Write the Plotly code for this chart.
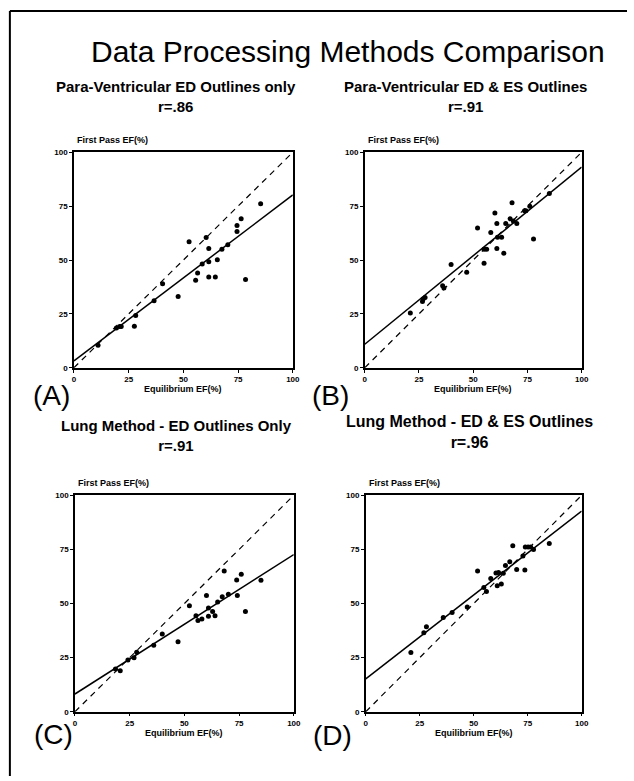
import plotly.graph_objects as go

W, H = 634, 781

# ---------------- data ----------------
ticks = [0, 25, 50, 75, 100]

ax = [11, 19.4, 20.9, 21.6, 27.6, 28.2, 36.6, 40.5, 47.6, 52.6, 55.6, 56.5, 58.6, 60.4, 61.6, 61.6, 61.6,
      64.6, 65.5, 67.6, 70.3, 74.5, 74.5, 76.4, 78.4, 85.3]
ay = [10.4, 18.4, 19.1, 19.1, 19.3, 24.2, 31.1, 39.0, 33.1, 58.5, 40.6, 44.0, 48.2, 60.5, 55.3, 49.2, 42.1,
      42.1, 50.1, 55.0, 57.1, 63.2, 66.0, 69.1, 40.9, 76.1]

bx = [21.0, 26.6, 26.9, 27.8, 35.9, 36.5, 39.8, 47.0, 52.0, 55.0, 55.0, 56.2, 58.1, 60.0, 60.9, 60.9, 61.2,
      63.1, 64.1, 65.0, 67.0, 67.9, 68.5, 70.1, 73.7, 74.3, 76.1, 77.8, 85.1]
by = [25.4, 30.8, 31.9, 32.6, 38.0, 37.0, 47.9, 44.3, 64.9, 48.5, 55.0, 55.0, 62.8, 71.8, 66.9, 55.4, 60.6,
      60.6, 53.1, 66.9, 69.1, 76.6, 68.1, 66.9, 72.9, 72.9, 75.0, 59.7, 80.9]

cx = [18.5, 20.7, 24.2, 27.0, 28.2, 36.0, 39.9, 47.1, 52.3, 55.3, 56.2, 58.0, 60.1, 61.0, 61.0, 62.9, 64.0,
      65.2, 67.3, 68.2, 70.1, 73.9, 74.2, 76.0, 77.9, 85.0]
cy = [19.8, 18.9, 23.9, 25.0, 27.5, 30.7, 35.9, 32.3, 49.0, 44.3, 42.2, 42.8, 53.7, 47.9, 44.1, 46.3, 44.3,
      50.7, 53.1, 65.0, 54.3, 60.9, 53.7, 63.5, 46.3, 60.7]

dx = [20.9, 26.9, 28.1, 35.9, 40.0, 47.0, 51.8, 54.7, 55.9, 57.9, 60.3, 60.9, 61.5, 62.8, 63.7, 64.7, 66.7,
      68.1, 69.9, 72.8, 73.7, 73.9, 75.2, 76.4, 77.7, 85.0]
dy = [27.4, 36.5, 39.3, 43.5, 45.8, 48.4, 65.0, 57.4, 55.5, 61.6, 64.1, 58.2, 64.3, 59.0, 64.0, 67.5, 69.3,
      76.7, 65.7, 72.0, 65.5, 76.1, 76.1, 76.1, 74.9, 77.7]

# regression lines (intercept, slope) as drawn
intercepts = [3.2, 10.9, 8.2, 15.2]
slopes = [0.77, 0.822, 0.644, 0.775]

titles = ["Para-Ventricular ED Outlines only", "Para-Ventricular ED & ES Outlines",
          "Lung Method - ED Outlines Only", "Lung Method - ED & ES Outlines"]
rvals = ["r=.86", "r=.91", "r=.91", "r=.96"]
letters = ["(A)", "(B)", "(C)", "(D)"]
main_title = "Data Processing Methods Comparison"
ytitle = "First Pass EF(%)"
xtitle = "Equilibrium EF(%)"

# ---------------- layout geometry (pixels) ----------------
boxes = [(73, 295, 150, 368), (368, 588, 150, 368), (74, 296, 497, 716), (369, 588, 497, 716)]
# centre x, centre y of the two-line block, font size
title_pos = [(176, 94, 15), (470, 94, 15), (177, 437, 15), (474, 433, 16)]
letter_pos = [(50, 396), (333, 396), (52, 739), (335, 740)]

def px(x):
    return x / W

def py(y):
    return 1 - y / H

FONT = "Liberation Sans"
fig = go.Figure()
series = [(ax, ay), (bx, by), (cx, cy), (dx, dy)]

annotations = []
for i, ((xs, ys), (l, r, t, b)) in enumerate(zip(series, boxes)):
    sfx = "" if i == 0 else str(i + 1)
    xa, ya = "x" + sfx, "y" + sfx
    # identity dashed line
    fig.add_trace(go.Scatter(x=[0, 100], y=[0, 100], mode="lines", xaxis=xa, yaxis=ya,
                             line=dict(color="black", width=1.2, dash="6px,5px"), showlegend=False,
                             hoverinfo="skip"))
    # regression line
    fig.add_trace(go.Scatter(x=[0, 100], y=[intercepts[i], intercepts[i] + 100 * slopes[i]],
                             mode="lines", xaxis=xa, yaxis=ya,
                             line=dict(color="black", width=1.5), showlegend=False, hoverinfo="skip"))
    # points
    fig.add_trace(go.Scatter(x=xs, y=ys, mode="markers", xaxis=xa, yaxis=ya,
                             marker=dict(color="black", size=5), showlegend=False, cliponaxis=False))
    axis_common = dict(range=[0, 100], tickvals=ticks, showgrid=False, zeroline=False,
                       showline=True, mirror=True, linecolor="black", linewidth=1.5,
                       ticks="outside", ticklen=3, tickcolor="black", tickwidth=1,
                       tickfont=dict(family=FONT, size=8, color="black", weight="bold"),
                       fixedrange=True)
    fig.update_layout(**{
        "xaxis" + sfx: dict(domain=[px(l), px(r)], anchor=ya, **axis_common),
        "yaxis" + sfx: dict(domain=[py(b), py(t)], anchor=xa, **axis_common),
    })
    # texts
    tx, tyy, ts = title_pos[i]
    annotations.append(dict(x=px(tx), y=py(tyy), text=titles[i] + "<br>" + rvals[i], showarrow=False,
                            xref="paper", yref="paper", xanchor="center", yanchor="middle", align="center",
                            font=dict(family=FONT, size=ts, color="black", weight="bold")))
    annotations.append(dict(x=px(l + 1), y=py(t - 12), text=ytitle, showarrow=False, xref="paper",
                            yref="paper", xanchor="left", yanchor="middle",
                            font=dict(family=FONT, size=9, color="black", weight="bold")))
    annotations.append(dict(x=px((l + r) / 2), y=py(b + 21), text=xtitle, showarrow=False, xref="paper",
                            yref="paper", xanchor="center", yanchor="middle",
                            font=dict(family=FONT, size=9, color="black", weight="bold")))
    lx, ly = letter_pos[i]
    annotations.append(dict(x=px(lx), y=py(ly), text=letters[i], showarrow=False, xref="paper",
                            yref="paper", xanchor="center", yanchor="middle",
                            font=dict(family=FONT, size=28, color="black")))

annotations.append(dict(x=px(351), y=py(48), text=main_title, showarrow=False, xref="paper", yref="paper",
                        xanchor="center", yanchor="middle",
                        font=dict(family=FONT, size=30, color="black")))

shapes = [
    dict(type="line", xref="paper", yref="paper", x0=px(8), x1=1, y0=py(7), y1=py(7),
         line=dict(color="black", width=2)),
    dict(type="line", xref="paper", yref="paper", x0=px(8), x1=px(8), y0=py(7), y1=0,
         line=dict(color="black", width=2)),
]

fig.update_layout(width=W, height=H, autosize=False, margin=dict(l=0, r=0, t=0, b=0),
                  paper_bgcolor="white", plot_bgcolor="white", annotations=annotations, shapes=shapes,
                  showlegend=False)

fig.write_html("out.html")
